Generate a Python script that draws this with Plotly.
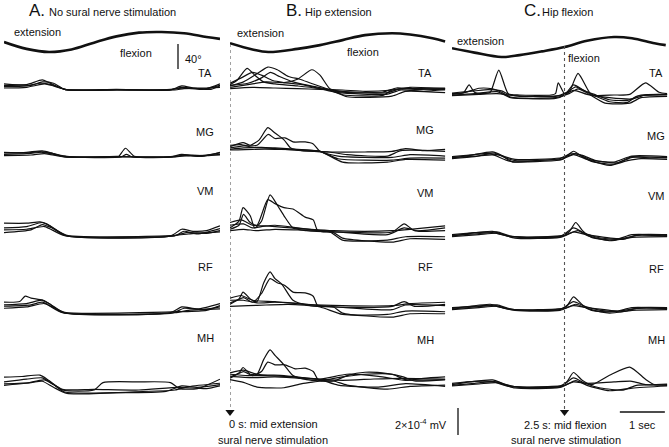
import plotly.graph_objects as go

W, H = 669, 447

# ---------------- data ----------------
# hip angle (degrees above the minimum of each panel) vs time (s)
HIP_T_A = [0, 0.5, 1.0, 1.5, 2.0, 2.5, 3.0, 3.5, 4.0, 4.5, 4.8]
HIP_A = [16, 5, 0, 4, 15, 25, 31, 32, 30, 24, 21]
HIP_T_B = [0, 0.5, 0.85, 1.5, 2.0, 2.5, 3.0, 3.6, 4.0, 4.5, 4.78]
HIP_B = [14, 4, 0, 5, 11, 19, 27, 30, 28, 22, 17]
HIP_T_C = [0, 0.5, 1.1, 1.5, 2.0, 2.5, 3.0, 3.6, 4.0, 4.5, 4.75]
HIP_C = [14, 7, 0, 3, 9, 16, 26, 32, 30, 22, 19]

MUSCLES = ["TA", "MG", "VM", "RF", "MH"]

# EMG envelopes: each trace is a list of (time s, amplitude x1e-4 mV)
A_TA = [
    [(0, .35), (.5, .4), (.85, .75), (1.0, .55), (1.35, .05), (2.5, .05), (3.7, 0), (3.95, .3), (4.2, .15), (4.5, .1), (4.8, .45)],
    [(0, .25), (.5, .3), (.8, .5), (1.05, .4), (1.4, 0), (2.5, 0), (3.7, .02), (3.95, .2), (4.3, .1), (4.6, .05), (4.8, .3)],
    [(0, .15), (.5, .2), (.9, .45), (1.1, .3), (1.4, .02), (2.6, .03), (3.8, 0), (4.0, .1), (4.5, .15), (4.8, .2)],
    [(0, .45), (.6, .35), (.85, .6), (1.1, .5), (1.35, .05), (2.5, 0), (3.7, .05), (4.0, .15), (4.4, .05), (4.8, .35)],
]
A_MG = [
    [(0, .3), (.5, .35), (.85, .45), (1.05, .3), (1.35, 0), (2.5, .05), (2.55, .05), (2.7, .65), (2.9, .05), (3.7, 0), (3.95, .2), (4.3, .05), (4.8, .3)],
    [(0, .2), (.5, .25), (.85, .35), (1.1, .2), (1.4, .02), (2.6, 0), (2.72, .2), (2.85, 0), (3.8, .02), (4.0, .15), (4.5, .1), (4.8, .2)],
    [(0, .1), (.6, .15), (.9, .25), (1.35, 0), (2.6, .03), (3.8, 0), (4.05, .1), (4.8, .15)],
    [(0, .35), (.5, .3), (.8, .4), (1.1, .25), (1.4, .05), (3.7, .03), (4.0, .1), (4.4, .05), (4.8, .35)],
]
A_VM = [
    [(0, .95), (.5, .95), (.8, 1.05), (.95, .9), (1.35, .05), (3.7, 0), (3.95, .5), (4.2, .35), (4.5, .4), (4.8, .75)],
    [(0, .6), (.5, .7), (.85, 1.0), (1.05, .7), (1.4, 0), (3.8, .02), (4.0, .35), (4.3, .15), (4.8, .55)],
    [(0, .25), (.6, .45), (.85, .85), (1.1, .55), (1.4, .05), (3.75, 0), (4.05, .25), (4.5, .2), (4.8, .4)],
    [(0, .45), (.5, .5), (.9, .7), (1.35, .02), (3.8, .05), (4.1, .15), (4.8, .3)],
]
A_RF = [
    [(0, .8), (.35, .85), (.47, 1.25), (.6, 1.1), (.85, .95), (1.0, .7), (1.3, .05), (3.7, .03), (3.95, .45), (4.3, .3), (4.8, .7)],
    [(0, .6), (.5, .7), (.85, .95), (1.05, .6), (1.35, 0), (3.75, 0), (4.0, .35), (4.4, .25), (4.8, .45)],
    [(0, .35), (.5, .45), (.9, .7), (1.3, .02), (3.8, .02), (4.1, .2), (4.8, .3)],
    [(0, .5), (.6, .6), (.85, .8), (1.1, .4), (1.35, .05), (3.9, .1), (4.5, .2), (4.8, .55)],
]
A_MH = [
    [(0, .95), (.4, 1.0), (.8, 1.1), (1.0, .7), (1.3, 0), (2.0, 0), (2.2, .55), (3.0, .6), (3.7, .55), (3.9, .1), (4.3, .1), (4.8, .8)],
    [(0, .6), (.5, .8), (.85, .9), (1.1, .4), (1.35, -.15), (2.5, -.2), (3.6, -.1), (3.95, .3), (4.3, .2), (4.8, .4)],
    [(0, .35), (.5, .5), (.9, .75), (1.3, .05), (2.0, .05), (3.0, 0), (3.9, .2), (4.5, .1), (4.8, .3)],
    [(0, .45), (.6, .55), (.85, .65), (1.1, .2), (1.4, -.25), (2.8, -.15), (3.8, 0), (4.1, .25), (4.8, .5)],
]

B_TA = [
    [(0, .4), (.15, .7), (.38, 1.6), (.55, 1.1), (.75, .6), (1.0, .45), (1.5, .3), (2.2, 0), (2.5, -.35), (3.4, -.4), (3.6, 0), (4.0, .1), (4.78, .15)],
    [(0, .3), (.3, .6), (.6, 1.2), (.84, 1.7), (1.05, 1.5), (1.3, 1.0), (1.55, .8), (1.8, .5), (2.2, .05), (2.5, -.15), (3.5, -.2), (3.8, .1), (4.78, 0)],
    [(0, .2), (.4, .4), (.8, .6), (1.2, .55), (1.5, .8), (1.82, 1.5), (2.0, 1.1), (2.22, .1), (2.5, -.1), (3.4, -.15), (3.7, .15), (4.1, .05), (4.78, .1)],
    [(0, .5), (.25, .9), (.5, 1.3), (.7, 1.1), (.95, .7), (1.2, .55), (1.6, .4), (2.0, .1), (2.4, -.2), (3.5, -.3), (3.8, 0), (4.3, -.1), (4.78, .05)],
    [(0, .1), (.5, .2), (1.0, .15), (1.5, .1), (2.0, .05), (2.5, 0), (3.0, -.1), (3.6, 0), (4.0, .2), (4.78, .1)],
    [(0, .35), (.4, .5), (.7, .9), (.9, 1.3), (1.1, 1.0), (1.4, .6), (1.8, .3), (2.3, -.05), (2.6, -.5), (3.6, -.45), (3.9, -.1), (4.78, -.2)],
]
B_MG = [
    [(0, .4), (.29, .7), (.45, .5), (.65, .9), (.84, 1.8), (1.0, 1.4), (1.2, .9), (1.35, .3), (1.6, .1), (2.2, 0), (2.6, -.2), (3.5, -.3), (3.8, .1), (4.78, .05)],
    [(0, .3), (.3, .45), (.6, .5), (.85, 1.3), (1.0, 1.0), (1.22, 1.05), (1.4, .75), (1.67, .75), (1.85, .6), (2.0, .05), (2.4, -.3), (3.6, -.4), (4.0, -.2), (4.78, -.3)],
    [(0, .2), (.3, .3), (.7, .35), (1.0, .3), (1.5, .2), (2.0, .05), (2.4, -.5), (3.6, -.6), (4.0, -.45), (4.78, -.45)],
    [(0, .5), (.25, .55), (.5, .35), (1.0, .25), (1.6, .1), (2.2, 0), (3.0, 0), (3.6, .05), (3.9, .25), (4.3, .1), (4.78, .2)],
    [(0, .15), (.5, .2), (1.0, .2), (2.0, .05), (2.5, -.75), (3.5, -.75), (3.9, -.55), (4.78, -.6)],
]
B_VM = [
    [(0, .3), (.2, .8), (.29, 1.8), (.45, 1.2), (.55, .3), (.7, .8), (.89, 2.75), (1.05, 2.0), (1.2, 1.2), (1.4, .3), (1.7, .1), (2.3, 0), (3.6, 0), (3.87, .6), (4.1, .1), (4.78, .3)],
    [(0, .2), (.2, .5), (.3, 1.3), (.45, .7), (.6, .5), (.84, 2.4), (1.0, 2.1), (1.2, 1.8), (1.4, 1.7), (1.67, 1.1), (1.85, .9), (1.95, .1), (2.3, -.05), (2.5, -.45), (3.6, -.75), (4.0, -.5), (4.78, -.55)],
    [(0, .5), (.3, .6), (.5, .3), (.7, .4), (1.0, .5), (1.5, .3), (2.0, .1), (2.4, 0), (3.5, -.2), (3.87, .3), (4.2, .05), (4.78, .1)],
    [(0, .1), (.3, .2), (.6, .1), (1.0, .2), (1.5, .15), (2.2, .05), (2.5, -.6), (3.5, -.6), (3.9, -.35), (4.78, -.35)],
    [(0, .7), (.25, .9), (.5, .5), (.8, .45), (1.2, .35), (1.8, .2), (2.3, .1), (3.0, .05), (3.6, .1), (4.0, .2), (4.78, .45)],
]
B_RF = [
    [(0, .3), (.2, .6), (.29, 1.1), (.45, .6), (.6, .4), (.75, 1.8), (.89, 2.6), (1.0, 2.1), (1.15, 1.7), (1.4, .5), (1.7, .15), (2.3, 0), (3.6, .05), (3.87, .4), (4.1, .05), (4.78, .2)],
    [(0, .2), (.3, .7), (.5, .35), (.7, 1.0), (.89, 2.1), (1.05, 1.8), (1.22, 1.6), (1.4, 1.1), (1.67, 1.05), (1.85, .8), (1.95, .1), (2.3, 0), (2.5, -.45), (3.6, -.75), (4.0, -.5), (4.78, -.5)],
    [(0, .5), (.3, .5), (.6, .3), (1.0, .35), (1.5, .25), (2.0, .1), (2.4, 0), (3.6, -.2), (3.9, .15), (4.78, .1)],
    [(0, .05), (.4, .1), (.8, .15), (1.3, .2), (2.0, 0), (2.5, -.55), (3.5, -.55), (3.9, -.3), (4.78, -.35)],
    [(0, .65), (.25, .85), (.5, .5), (1.0, .4), (1.7, .2), (2.5, .1), (3.6, .1), (4.0, .25), (4.78, .35)],
]
B_MH = [
    [(0, .3), (.2, .6), (.29, 1.0), (.45, .5), (.6, .5), (.75, 1.6), (.89, 2.3), (1.0, 1.9), (1.2, 1.2), (1.4, .4), (1.7, .1), (2.3, 0), (2.6, .4), (3.0, .65), (3.5, .55), (3.85, .3), (4.1, 0), (4.78, .1)],
    [(0, .2), (.3, .7), (.5, .4), (.7, .7), (.84, 1.4), (1.0, 1.2), (1.22, 1.2), (1.45, .9), (1.67, .95), (1.85, .7), (1.97, .05), (2.3, 0), (2.6, -.3), (3.5, -.6), (4.0, -.4), (4.78, -.3)],
    [(0, .1), (.3, -.1), (.6, -.45), (1.2, -.5), (1.6, -.2), (2.0, 0), (2.5, .3), (3.0, .5), (3.6, .5), (3.9, .1), (4.78, .1)],
    [(0, .5), (.4, .4), (.8, .4), (1.4, .3), (2.0, .1), (2.4, -.3), (3.3, -.45), (3.9, -.2), (4.78, -.4)],
    [(0, .6), (.3, .8), (.6, .5), (1.2, .4), (2.0, .15), (2.6, .5), (3.3, .35), (3.9, .05), (4.3, .2), (4.78, .3)],
    [(0, .35), (.5, .25), (1.0, .3), (1.8, .15), (2.5, .05), (3.2, .15), (3.8, .2), (4.78, .15)],
]

C_TA = [
    [(0, .1), (.25, .15), (.38, .75), (.5, .2), (.7, .1), (.85, .2), (1.04, 1.85), (1.25, .1), (1.5, 0), (2.2, 0), (2.3, .1), (2.36, .9), (2.5, .1), (2.6, .2), (2.8, 1.6), (3.0, .5), (3.1, 0), (3.6, 0), (3.95, .05), (4.3, .9), (4.6, .2), (4.78, .1)],
    [(0, .05), (.3, .2), (.6, .5), (.9, .45), (1.1, .2), (1.3, -.15), (2.3, -.25), (2.5, 0), (2.7, .75), (2.9, .4), (3.2, -.1), (3.5, -.5), (3.9, -.55), (4.1, -.1), (4.78, 0)],
    [(0, .15), (.5, .3), (.8, .4), (1.1, .3), (1.3, 0), (2.3, -.1), (2.55, .2), (2.75, .6), (2.95, .3), (3.2, 0), (3.5, -.35), (3.9, -.4), (4.2, 0), (4.78, .05)],
    [(0, 0), (.5, .1), (1.0, .25), (1.3, -.2), (2.3, -.2), (2.6, .1), (2.8, .45), (3.0, .15), (3.4, -.6), (3.95, -.6), (4.2, -.2), (4.78, -.1)],
    [(0, -.05), (.6, .05), (1.0, .1), (1.5, -.1), (2.4, -.05), (2.7, .35), (3.0, .05), (3.5, -.2), (4.0, -.3), (4.3, 0), (4.78, .05)],
]
C_MG = [
    [(0, 0), (.4, .2), (.9, .45), (1.1, .2), (1.35, -.3), (2.0, -.15), (2.45, -.1), (2.7, .5), (2.9, .1), (3.1, -.25), (3.6, -.45), (4.0, .1), (4.4, 0), (4.78, .05)],
    [(0, .1), (.5, .25), (.95, .35), (1.2, 0), (1.4, -.2), (2.4, -.05), (2.65, .35), (2.9, .2), (3.2, -.2), (3.7, -.35), (4.0, .05), (4.78, 0)],
    [(0, -.05), (.5, .1), (.85, .3), (1.3, -.25), (2.4, -.15), (2.7, .25), (3.0, -.1), (3.5, -.55), (3.9, -.2), (4.2, -.05), (4.78, -.1)],
    [(0, .05), (.6, .15), (1.0, .25), (1.4, -.1), (2.4, 0), (2.75, .3), (3.1, -.15), (3.6, -.3), (4.0, .15), (4.78, .1)],
]
C_VM = [
    [(0, 0), (.4, .2), (.9, .35), (1.2, .05), (1.5, -.1), (2.4, 0), (2.6, .3), (2.75, 1.0), (2.9, .4), (3.1, -.1), (3.6, -.3), (4.0, .1), (4.78, .05)],
    [(0, .1), (.5, .25), (1.0, .3), (1.3, 0), (2.4, -.05), (2.7, .6), (2.95, .2), (3.3, -.15), (3.8, -.25), (4.1, .05), (4.78, 0)],
    [(0, -.05), (.6, .1), (1.0, .2), (1.4, -.15), (2.4, -.1), (2.8, .4), (3.0, .05), (3.5, -.35), (4.0, -.1), (4.78, -.05)],
    [(0, .05), (.5, .15), (.9, .25), (1.3, -.05), (2.5, .05), (2.7, .3), (3.0, .1), (3.7, -.2), (4.2, .1), (4.78, .1)],
]
C_RF = [
    [(0, .05), (.4, .2), (.85, .35), (1.2, .05), (1.5, -.1), (2.4, 0), (2.55, .2), (2.7, .9), (2.9, .3), (3.1, -.1), (3.6, -.2), (4.0, .1), (4.78, .05)],
    [(0, .1), (.5, .2), (1.0, .3), (1.3, 0), (2.4, -.05), (2.7, .55), (2.95, .2), (3.3, -.1), (3.8, -.2), (4.1, .05), (4.78, .05)],
    [(0, -.05), (.6, .1), (1.0, .2), (1.4, -.1), (2.4, -.1), (2.75, .35), (3.0, .05), (3.5, -.3), (4.0, -.1), (4.78, -.05)],
    [(0, 0), (.5, .15), (.9, .25), (1.3, -.05), (2.5, .05), (2.7, .25), (3.0, .1), (3.7, -.15), (4.2, .1), (4.78, .1)],
]
C_MH = [
    [(0, .1), (.4, .3), (.9, .45), (1.2, .1), (1.5, -.1), (2.4, 0), (2.55, .3), (2.7, 1.0), (2.9, .4), (3.1, .1), (3.5, .8), (3.95, 1.4), (4.3, .5), (4.5, .1), (4.78, .1)],
    [(0, .2), (.5, .35), (1.0, .3), (1.3, 0), (2.4, -.05), (2.7, .6), (2.95, .2), (3.3, -.15), (3.8, -.3), (4.1, .05), (4.78, .05)],
    [(0, 0), (.6, .15), (1.0, .25), (1.4, -.15), (2.4, -.1), (2.75, .4), (3.0, .05), (3.5, -.35), (4.0, -.15), (4.78, 0)],
    [(0, .05), (.5, .2), (.9, .3), (1.3, -.05), (2.5, .05), (2.7, .3), (3.0, .2), (3.6, .3), (4.0, .35), (4.3, .1), (4.78, .15)],
]

STIM_T_B = 0.0      # s, mid extension
STIM_T_C = 2.5      # s, mid flexion

# ---------------- layout helpers ----------------
AMP_PX = 13.5       # display units per 1e-4 mV
DEG_PX = 0.625      # display units per degree
PANELS = {
    "A": dict(ax="x", dom=(4, 220), hip_base=52, hipT=HIP_T_A, hip=HIP_A,
              data=[A_TA, A_MG, A_VM, A_RF, A_MH], base=[90, 157, 236, 313, 390],
              lab_x=205, lab_y=[73, 132, 191, 267, 338]),
    "B": dict(ax="x2", dom=(230, 446), hip_base=52, hipT=HIP_T_B, hip=HIP_B,
              data=[B_TA, B_MG, B_VM, B_RF, B_MH], base=[90, 152, 232, 307, 381],
              lab_x=425, lab_y=[73, 130, 193, 267, 340]),
    "C": dict(ax="x3", dom=(452, 668), hip_base=57, hipT=HIP_T_C, hip=HIP_C,
              data=[C_TA, C_MG, C_VM, C_RF, C_MH], base=[95, 158, 236, 309, 386],
              lab_x=656, lab_y=[73, 136, 196, 269, 340]),
}
FONT = "Liberation Sans, Arial, sans-serif"
INK = "#111111"

fig = go.Figure()

for key, p in PANELS.items():
    # hip angle trace
    fig.add_trace(go.Scatter(
        x=p["hipT"], y=[p["hip_base"] - d * DEG_PX for d in p["hip"]],
        xaxis=p["ax"], yaxis="y", mode="lines",
        line=dict(color=INK, width=2.6, shape="spline", smoothing=1.0),
        hoverinfo="skip"))
    for traces, base in zip(p["data"], p["base"]):
        for tr in traces:
            fig.add_trace(go.Scatter(
                x=[t for t, a in tr], y=[base - a * AMP_PX for t, a in tr],
                xaxis=p["ax"], yaxis="y", mode="lines",
                line=dict(color=INK, width=1.2, shape="spline", smoothing=0.6),
                hoverinfo="skip"))

anns = []


def ann(x, y, text, size=11, xanchor="left", **kw):
    anns.append(dict(x=x / W, y=1 - y / H, xref="paper", yref="paper", text=text,
                     showarrow=False, xanchor=xanchor, yanchor="middle",
                     font=dict(family=FONT, size=size, color=INK), **kw))


for key, p in PANELS.items():
    for m, ly in zip(MUSCLES, p["lab_y"]):
        ann(p["lab_x"], ly, m, xanchor="center")

ann(27, 10, "A.", size=17)
ann(47, 12, "No sural nerve stimulation")
ann(284, 10, "B.", size=17)
ann(303, 12, "Hip extension")
ann(522, 10, "C.", size=17)
ann(540, 12, "Hip flexion")
ann(12, 32, "extension")
ann(235, 33, "extension")
ann(455, 41, "extension")
ann(118, 53, "flexion")
ann(345, 52, "flexion")
ann(566, 58, "flexion")
ann(183, 59, "40°")
ann(273, 424, "0 s: mid extension", xanchor="center")
ann(273, 440, "sural nerve stimulation", xanchor="center")
ann(565, 425, "2.5 s: mid flexion", xanchor="center")
ann(566, 440, "sural nerve stimulation", xanchor="center")
ann(449, 424, "2×10<sup>-4</sup> mV", xanchor="right")
ann(642, 425, "1 sec", xanchor="center")

shapes = [
    # 40 degree scale bar
    dict(type="line", xref="paper", yref="y", x0=178 / W, x1=178 / W,
         y0=44, y1=44 + 40 * DEG_PX, line=dict(color=INK, width=1.3)),
    # amplitude scale bar (2e-4 mV)
    dict(type="line", xref="paper", yref="y", x0=458 / W, x1=458 / W,
         y0=408, y1=408 + 2 * AMP_PX, line=dict(color=INK, width=1.3)),
    # time scale bar (1 s) on panel C axis
    dict(type="line", xref="x3", yref="y", x0=3.73, x1=4.73,
         y0=412, y1=412, line=dict(color=INK, width=1.3)),
    # stimulation markers
    dict(type="line", xref="x2", yref="y", x0=STIM_T_B, x1=STIM_T_B,
         y0=44, y1=410, line=dict(color="#555555", width=1.1, dash="dot")),
    dict(type="line", xref="x3", yref="y", x0=STIM_T_C, x1=STIM_T_C,
         y0=46, y1=410, line=dict(color="#555555", width=1.1, dash="dot")),
]

# arrow heads at the end of the stimulation lines
fig.add_trace(go.Scatter(x=[STIM_T_B], y=[412], xaxis="x2", yaxis="y", mode="markers",
                         marker=dict(symbol="triangle-down", size=8, color=INK),
                         cliponaxis=False, hoverinfo="skip"))
fig.add_trace(go.Scatter(x=[STIM_T_C], y=[412], xaxis="x3", yaxis="y", mode="markers",
                         marker=dict(symbol="triangle-down", size=8, color=INK),
                         cliponaxis=False, hoverinfo="skip"))

ax_common = dict(range=[0, 4.8], visible=False, fixedrange=True, anchor="y")
fig.update_layout(
    width=W, height=H,
    margin=dict(l=0, r=0, t=0, b=0),
    paper_bgcolor="white", plot_bgcolor="white",
    showlegend=False,
    xaxis=dict(domain=[PANELS["A"]["dom"][0] / W, PANELS["A"]["dom"][1] / W], **ax_common),
    xaxis2=dict(domain=[PANELS["B"]["dom"][0] / W, PANELS["B"]["dom"][1] / W], **ax_common),
    xaxis3=dict(domain=[PANELS["C"]["dom"][0] / W, PANELS["C"]["dom"][1] / W], **ax_common),
    yaxis=dict(range=[H, 0], domain=[0, 1], visible=False, fixedrange=True, anchor="x"),
    annotations=anns, shapes=shapes,
)

fig.write_html("out.html", config={"displayModeBar": False},
               post_script="document.body.style.margin='0';document.body.style.padding='0';document.body.style.overflow='hidden';")
